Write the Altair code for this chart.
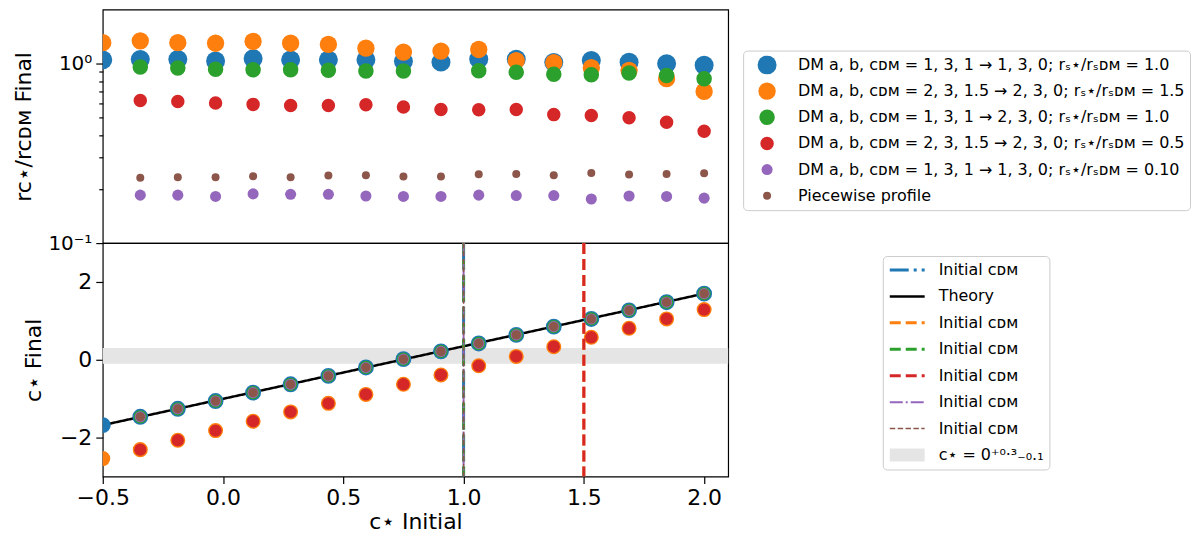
import altair as alt
import pandas as pd

FONT = "DejaVu Sans"

# ---------------- data ----------------
x_initial = [-0.5, -0.344, -0.188, -0.031, 0.125, 0.281, 0.438, 0.594, 0.75,
             0.906, 1.063, 1.219, 1.375, 1.531, 1.688, 1.844, 2.0]
x_ticks = [-0.5, 0.0, 0.5, 1.0, 1.5, 2.0]

series_labels = [
    "DM a, b, cᴅᴍ = 1, 3, 1 → 1, 3, 0; rₛ⋆/rₛᴅᴍ = 1.0",
    "DM a, b, cᴅᴍ = 2, 3, 1.5 → 2, 3, 0; rₛ⋆/rₛᴅᴍ = 1.5",
    "DM a, b, cᴅᴍ = 1, 3, 1 → 2, 3, 0; rₛ⋆/rₛᴅᴍ = 1.0",
    "DM a, b, cᴅᴍ = 2, 3, 1.5 → 2, 3, 0; rₛ⋆/rₛᴅᴍ = 0.5",
    "DM a, b, cᴅᴍ = 1, 3, 1 → 1, 3, 0; rₛ⋆/rₛᴅᴍ = 0.10",
    "Piecewise profile",
]
series_colors = ["#1f77b4", "#ff7f0e", "#2ca02c", "#d62728", "#9467bd", "#8c564b"]

# top panel: r_c* / r_cDM final
ratio_blue = [1.05, 1.057, 1.057, 1.035, 1.066, 1.05, 1.05, 1.05, 1.03, 1.02,
              1.06, 1.06, 1.017, 1.043, 1.02, 1.0, 0.98]
ratio_orange = [1.31, 1.34, 1.31, 1.30, 1.33, 1.30, 1.28, 1.22, 1.16, 1.175,
                1.20, 1.04, 1.013, 0.95, 0.918, 0.825, 0.70]
ratio_green = [None, 0.957, 0.945, 0.93, 0.926, 0.926, 0.918, 0.91, 0.91, None,
               0.912, 0.895, 0.872, 0.868, 0.886, 0.86, 0.825]
ratio_red = [None, 0.624, 0.616, 0.603, 0.593, 0.585, 0.585, 0.59, 0.573, 0.556,
             0.553, 0.556, 0.52, 0.514, 0.499, 0.472, 0.42]
ratio_purple = [None, 0.185, 0.185, 0.182, 0.188, 0.187, 0.187, 0.183, 0.182, 0.182,
                0.185, 0.184, 0.184, 0.176, 0.183, 0.182, 0.178]
ratio_brown = [None, 0.231, 0.233, 0.233, 0.236, 0.233, 0.238, 0.239, 0.235, 0.235,
               0.242, 0.243, 0.239, 0.246, 0.241, 0.243, 0.245]

# bottom panel: c* final
cfinal_blue = [-1.68, -1.466, -1.26, -1.06, -0.845, -0.63, -0.414, -0.198, 0.017, 0.216,
               0.42, 0.64, 0.853, 1.05, 1.27, 1.48, 1.70]
cfinal_orange = [-2.54, -2.31, -2.07, -1.82, -1.58, -1.34, -1.12, -0.89, -0.63, -0.39,
                 -0.155, 0.086, 0.336, 0.578, 0.81, 1.05, 1.29]
cfinal_green = [None, -1.466, -1.26, -1.06, -0.845, -0.63, -0.414, -0.198, 0.017, 0.216,
                0.42, 0.64, 0.853, 1.05, 1.27, 1.48, 1.70]
cfinal_red = [None, -2.31, -2.07, -1.82, -1.58, -1.34, -1.12, -0.89, -0.63, -0.39,
              -0.155, 0.086, 0.336, 0.578, 0.81, 1.05, 1.29]
cfinal_purple = [None, -1.466, -1.26, -1.06, -0.845, -0.63, -0.414, -0.198, 0.017, 0.216,
                 0.42, 0.64, 0.853, 1.05, 1.27, 1.48, 1.70]
cfinal_brown = [None, -1.466, -1.26, -1.06, -0.845, -0.63, -0.414, -0.198, 0.017, 0.216,
                0.42, 0.64, 0.853, 1.05, 1.27, 1.48, 1.70]

top_size_range = [361, 64]
bottom_sizes = [254, 227, 177, 154, 123, 87]

# vertical lines: initial c_DM per series
initial_cdm = [1.0, 1.5, 1.0, 1.5, 1.0, 1.0]
theory_x = [-0.5, 2.0]
theory_y = [-1.68, 1.70]
band_y = [-0.1, 0.3]
band_x = [-0.5, 2.1]

# legend of bottom panel (order as in reference)
leg_colors = ["#1f77b4", "black", "#ff7f0e", "#2ca02c", "#d62728", "#9467bd", "#8c564b", "#e5e5e5"]
leg_dash = [[19, 5, 3, 5], [1, 0], [11, 5], [11, 5], [11, 5], [13, 3, 2, 3], [5.5, 2.4], [1, 0]]
leg_width = [3, 2.5, 3, 3, 3, 2, 1.5, 13]
line_idx = [0, 2, 3, 4, 5, 6]   # vertical line -> legend entry
thresholds = [0.5, 1.5, 2.5, 3.5, 4.5, 5.5, 6.5]

# ---------------- tables ----------------
top_rows = []
for lab, vals in zip(series_labels, [ratio_blue, ratio_orange, ratio_green, ratio_red, ratio_purple, ratio_brown]):
    for x, v in zip(x_initial, vals):
        if v is not None:
            top_rows.append({"x": x, "ratio": v, "series": lab})
top_df = pd.DataFrame(top_rows)

bot_rows = []
for k, (lab, vals) in enumerate(zip(series_labels, [cfinal_blue, cfinal_orange, cfinal_green, cfinal_red, cfinal_purple, cfinal_brown])):
    for x, v in zip(x_initial, vals):
        if v is not None:
            bot_rows.append({"x": x, "cf": v, "series": lab, "sz": bottom_sizes[k]})
bot_df = pd.DataFrame(bot_rows)

vline_df = pd.DataFrame({"x": initial_cdm, "idx": line_idx})
theory_df = pd.DataFrame({"x": theory_x, "cf": theory_y, "idx": [1, 1]})
band_df = pd.DataFrame({"x": [band_x[0]], "x2": [band_x[1]], "y": [band_y[0]], "y2": [band_y[1]]})

# ---------------- top panel ----------------
W, H = 627, 234
xscale = alt.Scale(domain=[-0.5, 2.1], nice=False, zero=False)

top_legend = alt.Legend(
    title=None, orient="none", legendX=642, legendY=41,
    labelFontSize=16, labelLimit=600, rowPadding=7.2, padding=5, labelOffset=21.5,
    symbolOffset=9.5, clipHeight=19, strokeColor="#cccccc", cornerRadius=4, fillColor="white",
    symbolStrokeWidth=0, symbolOpacity=1, symbolType="circle",
)

top_points = alt.Chart(top_df).mark_circle(opacity=1, clip=True).encode(
    x=alt.X("x:Q", scale=xscale,
            axis=alt.Axis(values=x_ticks, labels=False, title=None, tickSize=7)),
    y=alt.Y("ratio:Q", scale=alt.Scale(type="log", domain=[0.1, 2.0], nice=False),
            axis=alt.Axis(values=[0.1, 1], orient="left",
                          labelExpr="datum.value == 1 ? '10⁰' : '10⁻¹'",
                          title="rc⋆/rcᴅᴍ Final", labelFontSize=20, titleFontSize=22,
                          tickSize=7, labelPadding=4, titlePadding=12)),
    color=alt.Color("series:N", scale=alt.Scale(domain=series_labels, range=series_colors),
                    legend=top_legend),
    size=alt.Size("series:N", scale=alt.Scale(domain=series_labels, range=top_size_range),
                  legend=top_legend),
)

top_minor = alt.Chart(top_df).mark_circle(opacity=0).encode(
    x=alt.X("x:Q", scale=xscale, axis=None),
    y=alt.Y("ratio:Q", axis=alt.Axis(values=[0.2, 0.3, 0.4, 0.5, 0.6, 0.7, 0.8, 0.9],
                                     orient="left", labels=False, title=None, tickSize=4)),
)

top = alt.layer(top_points, top_minor).resolve_axis(y="independent").properties(width=W, height=H)

# ---------------- bottom panel ----------------
bx = alt.X("x:Q", scale=xscale,
           axis=alt.Axis(values=x_ticks, format=".1f", title="c⋆ Initial",
                         labelFontSize=22, titleFontSize=22, tickSize=7, labelFlush=False,
                         labelPadding=4, titlePadding=3))
by_axis = alt.Axis(values=[-2, 0, 2], format="d", title="c⋆ Final",
                   labelFontSize=22, titleFontSize=22, tickSize=7,
                   labelPadding=4, titlePadding=14)
yscale = alt.Scale(domain=[-3, 3], nice=False, zero=False)

label_expr = ("datum.index == 1 ? 'Theory' : (datum.index == 7 ? 'c⋆ = 0⁺⁰·³₋₀.₁' : 'Initial cᴅᴍ')")
bottom_legend = alt.Legend(
    title=None, orient="none", legendX=782, legendY=247, labelExpr=label_expr,
    symbolType="M-1.75,0H4.08", symbolSize=144, labelFontSize=16, labelLimit=300,
    rowPadding=8.5, padding=5, labelOffset=26, clipHeight=18, strokeColor="#cccccc",
    cornerRadius=4, fillColor="white", symbolFillColor="transparent",
)
stroke_enc = alt.Stroke("idx:Q", scale=alt.Scale(type="threshold", domain=thresholds, range=leg_colors),
                        legend=bottom_legend)
dash_enc = alt.StrokeDash("idx:Q", scale=alt.Scale(type="threshold", domain=thresholds, range=leg_dash),
                          legend=bottom_legend)
width_enc = alt.StrokeWidth("idx:Q", scale=alt.Scale(type="threshold", domain=thresholds, range=leg_width),
                            legend=bottom_legend)

band = alt.Chart(band_df).mark_rect(color="#e5e5e5").encode(
    x=bx, x2="x2:Q",
    y=alt.Y("y:Q", scale=yscale, axis=by_axis), y2="y2:Q",
)

theory = alt.Chart(theory_df).mark_line(clip=True).encode(
    x=bx, y=alt.Y("cf:Q", scale=yscale, axis=by_axis),
    stroke=stroke_enc, strokeDash=dash_enc, strokeWidth=width_enc,
)

bottom_points = alt.Chart(bot_df).mark_circle(opacity=1, clip=True).encode(
    x=bx, y=alt.Y("cf:Q", scale=yscale, axis=by_axis),
    fill=alt.Fill("series:N", scale=alt.Scale(domain=series_labels, range=series_colors), legend=None),
    size=alt.Size("sz:Q", scale=None, legend=None),
)

vlines = alt.Chart(vline_df).mark_rule(clip=True).encode(
    x=bx, stroke=stroke_enc, strokeDash=dash_enc, strokeWidth=width_enc,
)

bottom = alt.layer(band, theory, bottom_points, vlines).properties(width=W, height=H)

chart = (
    alt.vconcat(top, bottom, spacing=0, bounds="flush")
    .resolve_scale(x="independent", y="independent", color="independent", size="independent")
    .resolve_legend(color="independent", size="independent")
    .properties(padding={"left": 4, "top": 0, "right": 0, "bottom": 2})
    .configure(font=FONT)
    .configure_view(stroke="black", strokeWidth=1.2)
    .configure_axis(domain=False, grid=False, tickColor="black", labelColor="black",
                    titleColor="black", tickWidth=1.2, labelFont=FONT, titleFont=FONT,
                    titleFontWeight="normal")
    .configure_legend(labelFont=FONT, labelColor="black")
)

chart.save("out.html", embed_options={"renderer": "svg", "actions": False})
